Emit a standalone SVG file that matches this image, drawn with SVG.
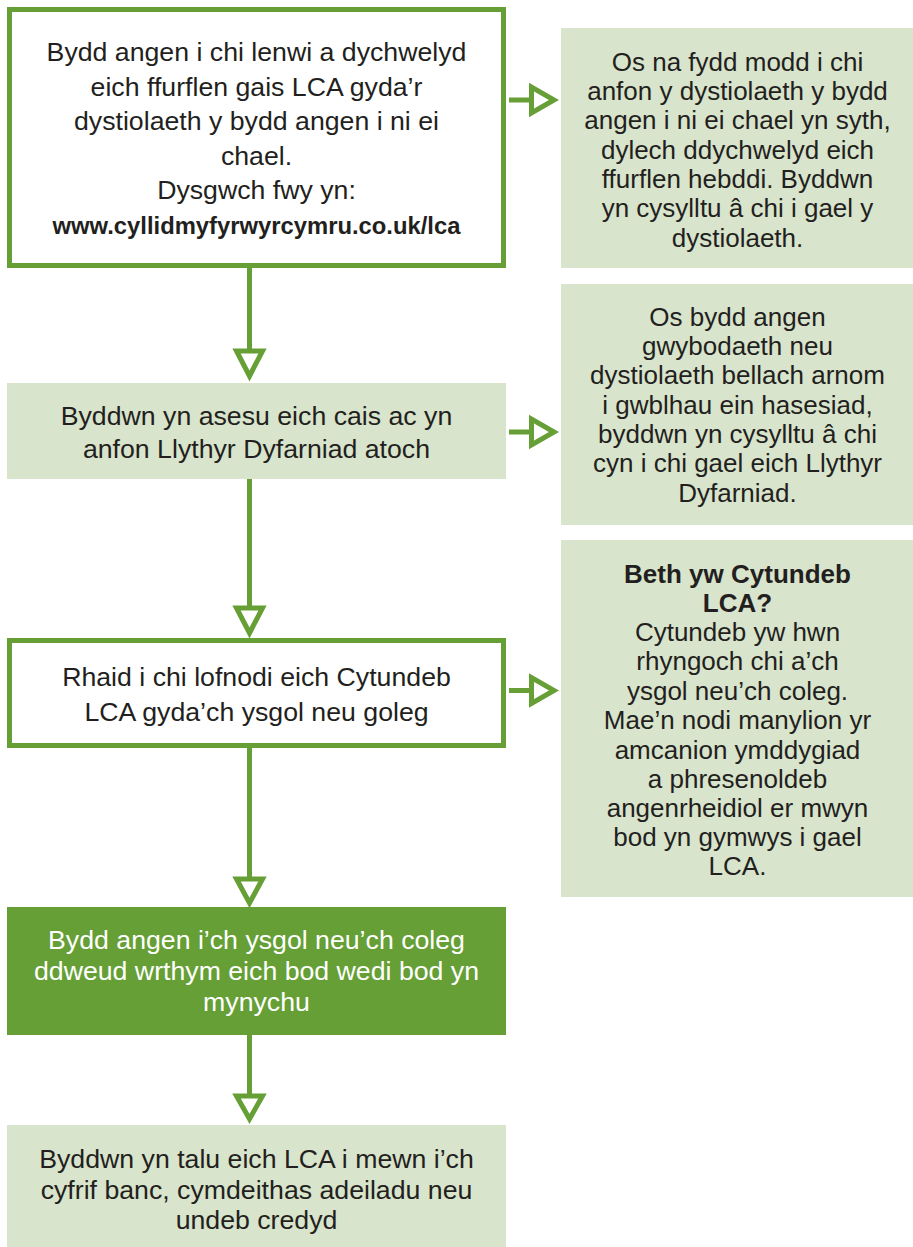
<svg xmlns="http://www.w3.org/2000/svg" width="913" height="1247" viewBox="0 0 913 1247">
<style>
  .t { font-family: "Liberation Sans", Arial, sans-serif; font-size: 26.7px; fill: #231f20; text-anchor: middle; }
  .r { font-size: 26px; }
  .b { font-weight: bold; }
  .u { font-size: 23.8px; }
  .w { fill: #ffffff; }
  .outline { fill: #ffffff; stroke: #659f35; stroke-width: 5; }
  .light { fill: #d8e4cb; }
  .dark { fill: #659f35; }
  .line { stroke: #659f35; stroke-width: 5; fill: none; }
  .head { fill: #ffffff; stroke: #659f35; stroke-width: 5; stroke-linejoin: miter; }
</style>
<rect width="913" height="1247" fill="#ffffff"/>
<g id="connectors">
  <line class="line" x1="509" y1="100" x2="532" y2="100"/>
  <polygon class="head" points="531.5,87 531.5,113 554,100"/>
  <line class="line" x1="509" y1="432" x2="532" y2="432"/>
  <polygon class="head" points="531.5,419 531.5,445 554,432"/>
  <line class="line" x1="509" y1="690.5" x2="532" y2="690.5"/>
  <polygon class="head" points="531.5,677.5 531.5,703.5 554,690.5"/>
  <line class="line" x1="249.5" y1="268" x2="249.5" y2="351"/>
  <polygon class="head" points="236.5,351 262.5,351 249.5,376"/>
  <line class="line" x1="249.5" y1="479" x2="249.5" y2="608"/>
  <polygon class="head" points="236.5,608 262.5,608 249.5,633"/>
  <line class="line" x1="249.5" y1="748" x2="249.5" y2="879"/>
  <polygon class="head" points="236.5,879 262.5,879 249.5,903"/>
  <line class="line" x1="249.5" y1="1035" x2="249.5" y2="1096"/>
  <polygon class="head" points="236.5,1096 262.5,1096 249.5,1119"/>
</g>
<g id="node-apply">
  <rect class="outline" x="9.5" y="9.5" width="494" height="256"/>
  <text class="t" x="256.5" y="61">Bydd angen i chi lenwi a dychwelyd</text>
  <text class="t" x="256.5" y="95.5">eich ffurflen gais LCA gyda’r</text>
  <text class="t" x="256.5" y="130">dystiolaeth y bydd angen i ni ei</text>
  <text class="t" x="256.5" y="164.5">chael.</text>
  <text class="t" x="256.5" y="199">Dysgwch fwy yn:</text>
  <text class="t b u" x="256.5" y="233.5">www.cyllidmyfyrwyrcymru.co.uk/lca</text>
</g>
<g id="node-evidence-note">
  <rect class="light" x="561" y="28" width="352" height="240"/>
  <text class="t r" x="737.5" y="70.5">Os na fydd modd i chi</text>
  <text class="t r" x="737.5" y="100">anfon y dystiolaeth y bydd</text>
  <text class="t r" x="737.5" y="129">angen i ni ei chael yn syth,</text>
  <text class="t r" x="737.5" y="158.5">dylech ddychwelyd eich</text>
  <text class="t r" x="737.5" y="188">ffurflen hebddi. Byddwn</text>
  <text class="t r" x="737.5" y="217">yn cysylltu â chi i gael y</text>
  <text class="t r" x="737.5" y="246.5">dystiolaeth.</text>
</g>
<g id="node-assess">
  <rect class="light" x="7" y="383" width="499" height="96"/>
  <text class="t" x="256.5" y="425">Byddwn yn asesu eich cais ac yn</text>
  <text class="t" x="256.5" y="457.5">anfon Llythyr Dyfarniad atoch</text>
</g>
<g id="node-info-note">
  <rect class="light" x="561" y="284" width="352" height="241"/>
  <text class="t r" x="737.5" y="325.5">Os bydd angen</text>
  <text class="t r" x="737.5" y="355">gwybodaeth neu</text>
  <text class="t r" x="737.5" y="384">dystiolaeth bellach arnom</text>
  <text class="t r" x="737.5" y="413.5">i gwblhau ein hasesiad,</text>
  <text class="t r" x="737.5" y="443">byddwn yn cysylltu â chi</text>
  <text class="t r" x="737.5" y="472">cyn i chi gael eich Llythyr</text>
  <text class="t r" x="737.5" y="501.5">Dyfarniad.</text>
</g>
<g id="node-sign">
  <rect class="outline" x="9.5" y="640.5" width="494" height="105"/>
  <text class="t" x="256.5" y="685.5">Rhaid i chi lofnodi eich Cytundeb</text>
  <text class="t" x="256.5" y="720.5">LCA gyda’ch ysgol neu goleg</text>
</g>
<g id="node-agreement-note">
  <rect class="light" x="561" y="540" width="352" height="357"/>
  <text class="t r b" x="737.5" y="582.5">Beth yw Cytundeb</text>
  <text class="t r b" x="737.5" y="611.5">LCA?</text>
  <text class="t r" x="737.5" y="641">Cytundeb yw hwn</text>
  <text class="t r" x="737.5" y="670">rhyngoch chi a’ch</text>
  <text class="t r" x="737.5" y="699.5">ysgol neu’ch coleg.</text>
  <text class="t r" x="737.5" y="729">Mae’n nodi manylion yr</text>
  <text class="t r" x="737.5" y="758.5">amcanion ymddygiad</text>
  <text class="t r" x="737.5" y="787.5">a phresenoldeb</text>
  <text class="t r" x="737.5" y="817">angenrheidiol er mwyn</text>
  <text class="t r" x="737.5" y="846">bod yn gymwys i gael</text>
  <text class="t r" x="737.5" y="875">LCA.</text>
</g>
<g id="node-attendance">
  <rect class="dark" x="7" y="907" width="499" height="128"/>
  <text class="t w" x="256.5" y="949">Bydd angen i’ch ysgol neu’ch coleg</text>
  <text class="t w" x="256.5" y="980">ddweud wrthym eich bod wedi bod yn</text>
  <text class="t w" x="256.5" y="1010.5">mynychu</text>
</g>
<g id="node-pay">
  <rect class="light" x="7" y="1125" width="499" height="122"/>
  <text class="t" x="256.5" y="1167.5">Byddwn yn talu eich LCA i mewn i’ch</text>
  <text class="t" x="256.5" y="1198.5">cyfrif banc, cymdeithas adeiladu neu</text>
  <text class="t" x="256.5" y="1229">undeb credyd</text>
</g>
</svg>
